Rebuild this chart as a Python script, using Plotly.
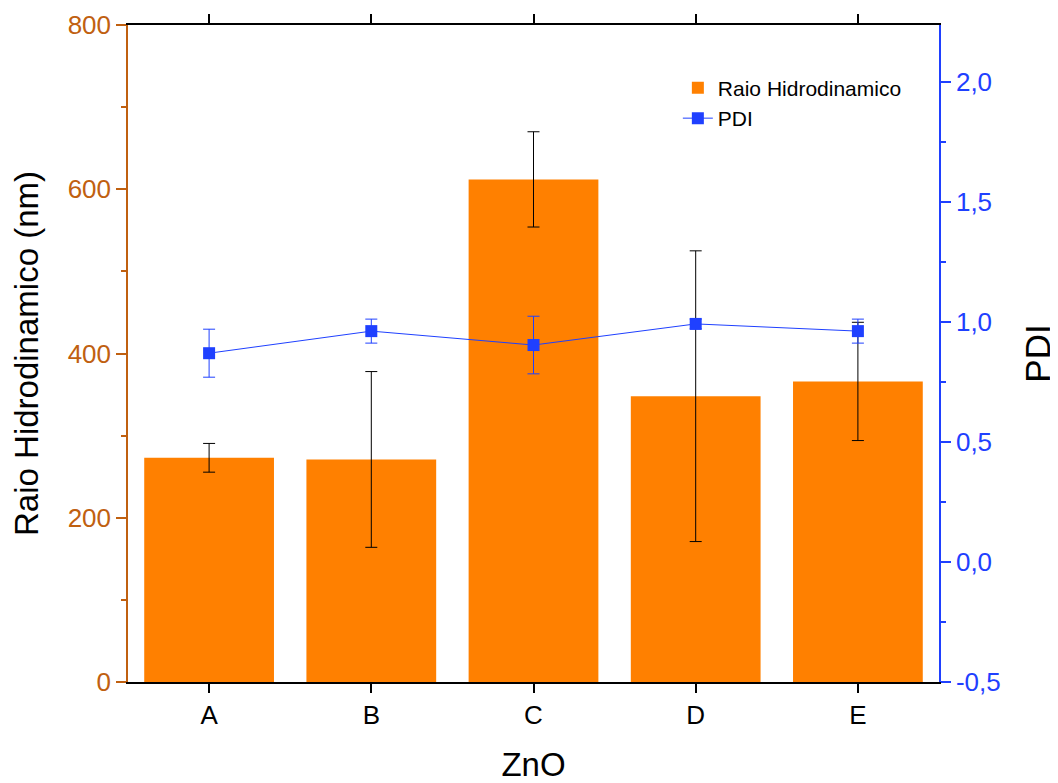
import plotly.graph_objects as go

categories = ["A", "B", "C", "D", "E"]
raio = [273, 271, 612, 348, 366]
raio_err = [17.5, 107, 58, 177, 72]
pdi = [0.870, 0.962, 0.904, 0.992, 0.962]
pdi_err = [0.10, 0.05, 0.12, 0.02, 0.05]

left_ticks = [0, 200, 400, 600, 800]
right_tickvals = [-0.5, 0.0, 0.5, 1.0, 1.5, 2.0]
right_ticktext = ["-0,5", "0,0", "0,5", "1,0", "1,5", "2,0"]

ORANGE = "#FF8000"
BROWN = "#C06010"
BLUE = "#1F40FF"
FONT = "Liberation Sans, Arial, sans-serif"

fig = go.Figure()
fig.add_trace(go.Bar(
    x=categories, y=raio, name="Raio Hidrodinamico",
    marker=dict(color=ORANGE, line=dict(width=0)),
    width=0.8,
    error_y=dict(type="data", array=raio_err, color="black", thickness=1, width=6),
))
fig.add_trace(go.Scatter(
    x=categories, y=pdi, name="PDI", yaxis="y2",
    mode="lines+markers",
    line=dict(color=BLUE, width=1),
    marker=dict(symbol="square", size=12, color=BLUE),
    error_y=dict(type="data", array=pdi_err, color=BLUE, thickness=1, width=6),
))

fig.update_layout(
    width=1050, height=775,
    margin=dict(l=120, r=119, t=17, b=101, autoexpand=False),
    paper_bgcolor="white", plot_bgcolor="white",
    font=dict(family=FONT, size=26, color="black"),
    separators=",.",
    showlegend=True,
    legend=dict(x=0.678, y=0.935, xanchor="left", yanchor="top",
                font=dict(size=21, color="black"), bgcolor="rgba(0,0,0,0)",
                tracegroupgap=0),
    xaxis=dict(
        range=[-0.5, 4.5], showgrid=False,
        showline=True, linecolor="black", linewidth=1.5,
        mirror="allticks", ticks="outside", ticklen=9, tickwidth=1.5, tickcolor="black",
        tickfont=dict(size=26, color="black"),
        title=dict(text="ZnO", font=dict(size=33, color="black"), standoff=26),
    ),
    yaxis=dict(
        range=[0, 800], showgrid=False, zeroline=False,
        showline=True, linecolor=BROWN, linewidth=1.5,
        tickvals=left_ticks,
        ticks="outside", ticklen=10, tickwidth=1.5, tickcolor=BROWN,
        minor=dict(ticks="outside", ticklen=5, tickwidth=1.5, tickcolor=BROWN, dtick=100, tick0=0),
        tickfont=dict(size=26, color=BROWN),
        title=dict(text="Raio Hidrodinamico (nm)", font=dict(size=33, color="black"), standoff=20),
    ),
    yaxis2=dict(
        overlaying="y", side="right",
        range=[-0.5, 2.2375], showgrid=False, zeroline=False,
        showline=True, linecolor=BLUE, linewidth=1.5,
        tickvals=right_tickvals, ticktext=right_ticktext,
        ticks="outside", ticklen=10, tickwidth=1.5, tickcolor=BLUE,
        minor=dict(ticks="outside", ticklen=5, tickwidth=1.5, tickcolor=BLUE, dtick=0.25, tick0=0),
        tickfont=dict(size=26, color=BLUE),
        title=dict(text="PDI", font=dict(size=35, color="black"), standoff=26),
    ),
)

fig.write_html("out.html")
